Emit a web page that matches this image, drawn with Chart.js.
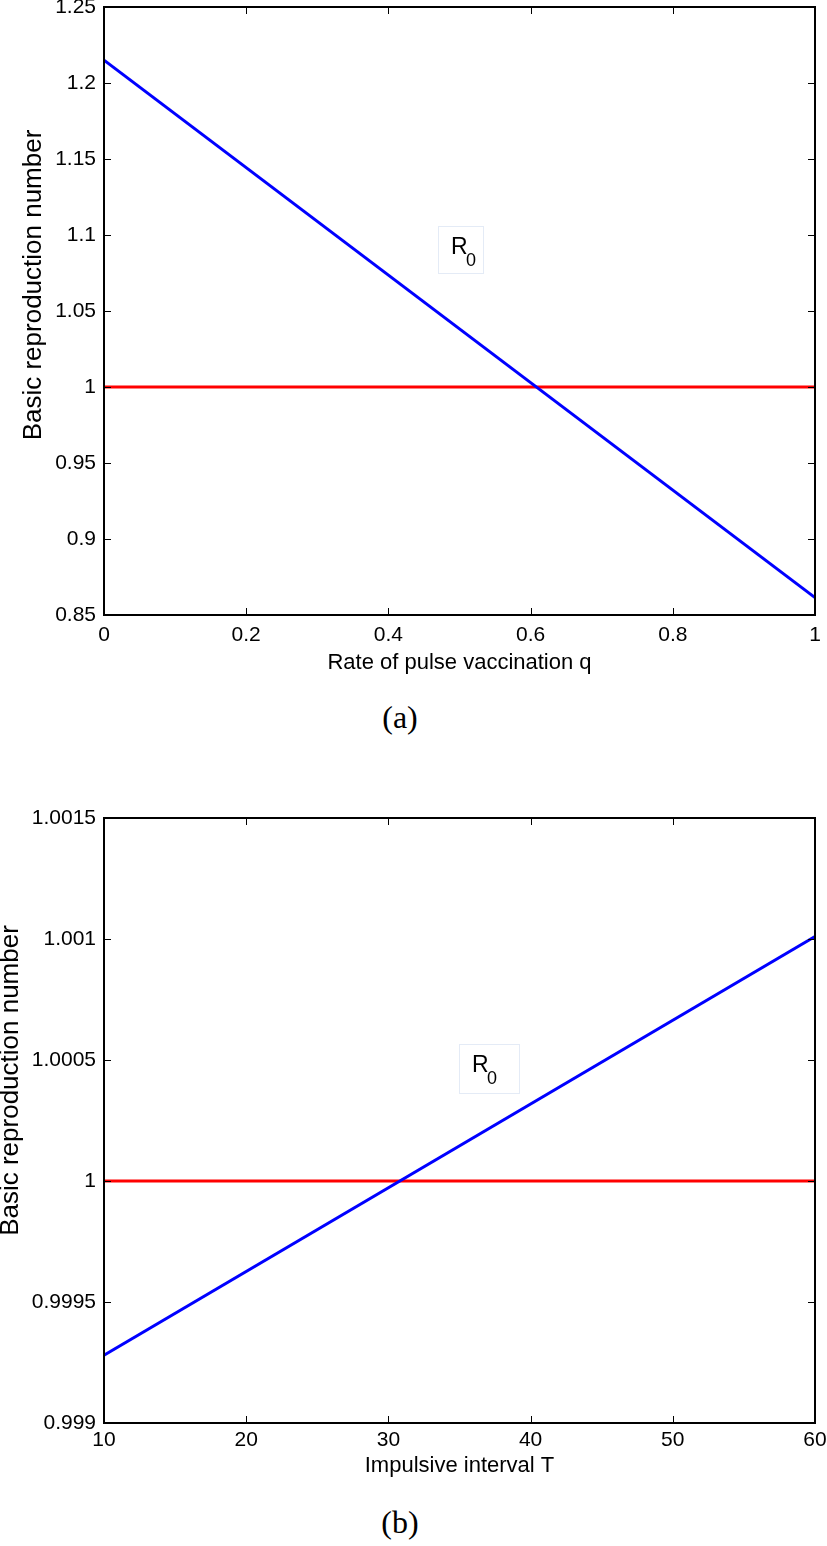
<!DOCTYPE html>
<html>
<head>
<meta charset="utf-8">
<script src="https://cdn.jsdelivr.net/npm/chart.js@4.4.1/dist/chart.umd.min.js"></script>
<style>
  body { margin: 0; background: #fff; width: 827px; height: 1546px; position: relative; overflow: hidden; }
  .wrap { position: absolute; left: 0; }
  .r0 { position: absolute; border: 1px solid #e4ebf6; box-sizing: border-box; font-family: "Liberation Sans", Arial, sans-serif; color: #000; }
  .r0 span { position: absolute; line-height: 1; }
  .r0 .big { font-size: 23px; left: 12px; top: 8px; }
  .r0 .sub { font-size: 18px; left: 27px; top: 24px; }
  .cap { position: absolute; left: 0; width: 800px; text-align: center; font-family: "Liberation Serif", "DejaVu Serif", serif; font-size: 32px; line-height: 34px; }
</style>
</head>
<body>
<div class="wrap" style="top:0"><canvas id="chartA" width="827" height="676"></canvas></div>
<div class="r0" style="left:438px;top:226px;width:46px;height:48px"><span class="big">R</span><span class="sub">0</span></div>
<div class="cap" style="top:700px">(a)</div>

<div class="wrap" style="top:790px"><canvas id="chartB" width="827" height="689"></canvas></div>
<div class="r0" style="left:459px;top:1044px;width:61px;height:50px"><span class="big">R</span><span class="sub">0</span></div>
<div class="cap" style="top:1505px">(b)</div>

<script>
// (a) R0 против доли вакцинации q
const qValues = [0, 1];
const r0ByQ = [1.215, 0.8615];
const thresholdA = [1, 1];
const xTicksA = [0, 0.2, 0.4, 0.6, 0.8, 1];
const xTickLabelsA = ['0', '0.2', '0.4', '0.6', '0.8', '1'];
const yTicksA = [0.85, 0.9, 0.95, 1, 1.05, 1.1, 1.15, 1.2, 1.25];
const yTickLabelsA = ['0.85', '0.9', '0.95', '1', '1.05', '1.1', '1.15', '1.2', '1.25'];

// (b) R0 против интервала T
const tValues = [10, 60];
const r0ByT = [0.99928, 1.00101];
const thresholdB = [1, 1];
const xTicksB = [10, 20, 30, 40, 50, 60];
const xTickLabelsB = ['10', '20', '30', '40', '50', '60'];
const yTicksB = [0.999, 0.9995, 1, 1.0005, 1.001, 1.0015];
const yTickLabelsB = ['0.999', '0.9995', '1', '1.0005', '1.001', '1.0015'];

const FONT = '"Liberation Sans", Arial, Helvetica, sans-serif';

// рамка и внутренние засечки как в MATLAB
const frame = {
  id: 'frame',
  afterDraw(chart) {
    const { ctx, chartArea: a, scales: { x, y } } = chart;
    ctx.save();
    ctx.strokeStyle = '#000';
    ctx.lineWidth = 1;
    ctx.beginPath();
    x.ticks.forEach(t => {
      const px = Math.round(x.getPixelForValue(t.value)) + 0.5;
      ctx.moveTo(px, a.bottom); ctx.lineTo(px, a.bottom - 7);
      ctx.moveTo(px, a.top); ctx.lineTo(px, a.top + 7);
    });
    y.ticks.forEach(t => {
      const py = Math.round(y.getPixelForValue(t.value)) + 0.5;
      ctx.moveTo(a.left, py); ctx.lineTo(a.left + 7, py);
      ctx.moveTo(a.right, py); ctx.lineTo(a.right - 7, py);
    });
    ctx.stroke();
    ctx.lineWidth = 2;
    ctx.strokeRect(a.left, a.top, a.right - a.left, a.bottom - a.top);

    // подпись оси Y (в оригинале чуть выше центра)
    const o = chart.options.plugins.frame;
    ctx.translate(o.titleX, (a.top + a.bottom) / 2 - o.titleShift);
    ctx.rotate(-Math.PI / 2);
    ctx.fillStyle = '#000';
    ctx.font = '26px ' + FONT;
    ctx.textAlign = 'center';
    ctx.textBaseline = 'middle';
    ctx.fillText('Basic reproduction number', 0, 0);
    ctx.restore();
  }
};

function makeChart(id, o) {
  const ctx = document.getElementById(id).getContext('2d');
  return new Chart(ctx, {
    type: 'line',
    data: {
      datasets: [
        {
          label: 'R0',
          data: o.xs.map((v, i) => ({ x: v, y: o.r0[i] })),
          borderColor: '#0000ff',
          borderWidth: 3,
          pointRadius: 0,
          fill: false
        },
        {
          label: 'threshold',
          data: o.xs.map((v, i) => ({ x: v, y: o.thr[i] })),
          borderColor: '#ff0000',
          borderWidth: 3,
          pointRadius: 0,
          fill: false
        }
      ]
    },
    options: {
      responsive: false,
      animation: false,
      layout: { padding: { top: o.padTop, right: 12, left: 0, bottom: 0 } },
      plugins: {
        legend: { display: false },
        tooltip: { enabled: false },
        frame: { titleX: o.yTitleX, titleShift: o.yTitleShift }
      },
      scales: {
        x: {
          type: 'linear',
          min: o.xTicks[0],
          max: o.xTicks[o.xTicks.length - 1],
          grid: { display: false, drawTicks: false },
          border: { display: false },
          afterBuildTicks: s => { s.ticks = o.xTicks.map(v => ({ value: v })); },
          afterFit: s => { s.height = o.xAxisH; s.paddingLeft = 0; s.paddingRight = 0; },
          ticks: {
            padding: o.xTickPad,
            maxRotation: 0,
            autoSkip: false,
            color: '#000',
            font: { family: FONT, size: 21 },
            callback: (v, i) => o.xLabels[i]
          },
          title: {
            display: true,
            text: o.xTitle,
            color: '#000',
            font: { family: FONT, size: 22 },
            padding: 0
          }
        },
        y: {
          type: 'linear',
          min: o.yTicks[0],
          max: o.yTicks[o.yTicks.length - 1],
          grid: { display: false, drawTicks: false },
          border: { display: false },
          afterBuildTicks: s => { s.ticks = o.yTicks.map(v => ({ value: v })); },
          afterFit: s => { s.width = 104; s.paddingTop = 0; s.paddingBottom = 0; },
          ticks: {
            padding: 8,
            autoSkip: false,
            color: '#000',
            font: { family: FONT, size: 21 },
            callback: (v, i) => o.yLabels[i]
          }
        }
      }
    },
    plugins: [frame]
  });
}

makeChart('chartA', {
  xs: qValues, r0: r0ByQ, thr: thresholdA,
  xTicks: xTicksA, xLabels: xTickLabelsA,
  yTicks: yTicksA, yLabels: yTickLabelsA,
  xTitle: 'Rate of pulse vaccination q',
  padTop: 7, xAxisH: 61, xTickPad: 8, yTitleX: 34, yTitleShift: 26
});

makeChart('chartB', {
  xs: tValues, r0: r0ByT, thr: thresholdB,
  xTicks: xTicksB, xLabels: xTickLabelsB,
  yTicks: yTicksB, yLabels: yTickLabelsB,
  xTitle: 'Impulsive interval T',
  padTop: 28, xAxisH: 56, xTickPad: 5, yTitleX: 11, yTitleShift: 40
});
</script>
</body>
</html>
